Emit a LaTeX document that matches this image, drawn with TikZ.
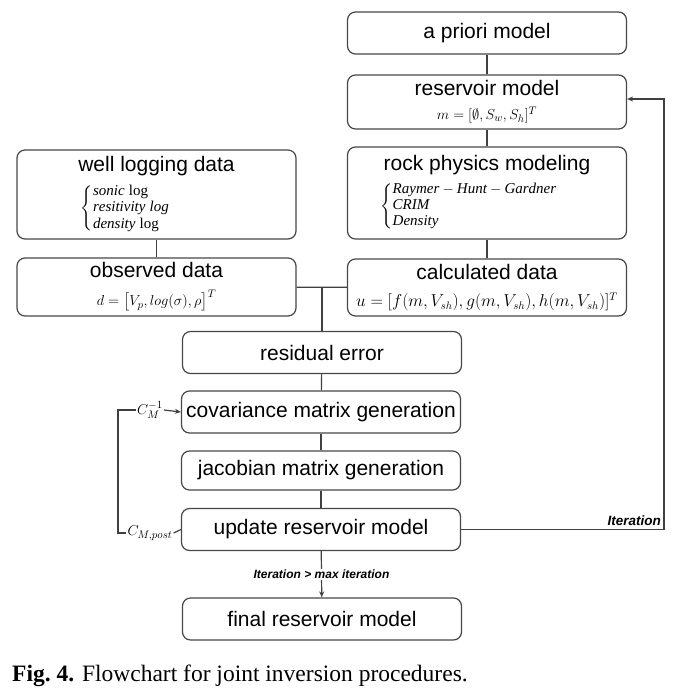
\documentclass[tikz,border=0pt]{standalone}
\usepackage{fontspec}
\setmainfont{Liberation Serif}
\setsansfont{Liberation Sans}
\usepackage{amssymb}
\usepackage{amsmath}
\usetikzlibrary{arrows.meta}
\newcommand{\eqsize}{\fontsize{15}{17}\selectfont}

\begin{document}
\begin{tikzpicture}[x=1pt,y=-1pt,
  box/.style={draw=black!72,line width=1.2pt,rounded corners=8pt,
    minimum width=279pt,minimum height=42pt,align=center,inner sep=2pt,
    font=\sffamily\fontsize{21}{25}\selectfont},
  link/.style={draw=black!75,line width=1.2pt},
  tip/.style={-{Stealth[length=6pt,width=5pt]}},
  note/.style={font=\sffamily\bfseries\itshape\fontsize{12}{14}\selectfont,inner sep=1pt}]
  \useasboundingbox (0,0) rectangle (685,693);
  \node[box] (prior) at (487,33) {a priori model};
  \node[box,minimum height=54pt] (res) at (487,102)
    {reservoir model\\[-1pt] {\eqsize $m=[\emptyset,S_w,S_h]^T$}};
  \node[box,minimum height=92pt] (rock) at (487,193)
    {rock physics modeling\\[6pt] \hspace*{-36pt}{\fontsize{15}{16}\selectfont $\left\{\begin{array}{@{}l@{}}
      \mathit{Raymer}-\mathit{Hunt}-\mathit{Gardner}\\ \mathit{CRIM}\\ \mathit{Density}
    \end{array}\right.$}};
  \node[box,minimum height=57pt] (calc) at (487,287.5)
    {calculated data\\[2pt] {\fontsize{16}{18}\selectfont $u=[f(m,V_{sh}),g(m,V_{sh}),h(m,V_{sh})]^T$}};
  \node[box,minimum height=89pt] (well) at (156.5,194.5)
    {well logging data\\[7pt] \hspace*{-62pt}{\fontsize{15}{16.5}\selectfont $\left\{\begin{array}{@{}l@{}}
      \mathit{sonic}\ \textrm{log}\\ \mathit{resitivity}\ \mathit{log}\\ \mathit{density}\ \textrm{log}
    \end{array}\right.$}};
  \node[box,minimum height=58pt] (obs) at (156.5,287)
    {observed data\\[3pt] {\eqsize $d=\bigl[V_p,log(\sigma),\rho\bigr]^T$}};
  \node[box] (resid) at (322,352.5) {residual error};
  \node[box] (cov) at (321,412) {covariance matrix generation};
  \node[box,minimum height=39pt] (jac) at (321,470.5) {jacobian matrix generation};
  \node[box] (upd) at (321,529.5) {update reservoir model};
  \node[box] (final) at (322,619) {final reservoir model};
  \node[inner sep=1pt,font=\eqsize] (cminv) at (150,410) {$C_M^{-1}$};
  \node[inner sep=1pt,font=\eqsize] (cmpost) at (150,533) {$C_{M,post}$};
  \coordinate (back) at (118,533);
  \coordinate (turn) at (664,529.5);
  \coordinate (join) at (obs.east -| resid.north);
  \node[note,anchor=south east,font=\sffamily\bfseries\itshape\fontsize{13.5}{15}\selectfont] (iter) at (662,527) {Iteration};

  \draw[link] (prior) -- (res);
  \draw[link] (res) -- (rock);
  \draw[link] (rock) -- (calc);
  \draw[link] (well) -- (obs);
  \draw[link] (obs) -- (calc);
  \draw[link] (join) -- (resid);
  \draw[link] (resid) -- (cov);
  \draw[link] (cov) -- (jac);
  \draw[link] (jac) -- (upd);
  \draw[link,tip] (upd) -- node[note,fill=white] {Iteration > max iteration} (final);
  \draw[link,tip] (upd.east) -- (turn) |- ([yshift=3pt]res.east);
  \draw[link] (upd.west) -- (cmpost.east);
  \draw[link] (cmpost.west) -- (back) |- (cminv.west);
  \draw[link,tip] (cminv.east) -- (cov.west);

  \node[anchor=base west,inner sep=0pt,font=\fontsize{23.5}{26}\selectfont] (caption) at (12,681)
    {\textbf{Fig.\ 4.} Flowchart\ for\ joint\ inversion\ procedures.};
\end{tikzpicture}
\end{document}
